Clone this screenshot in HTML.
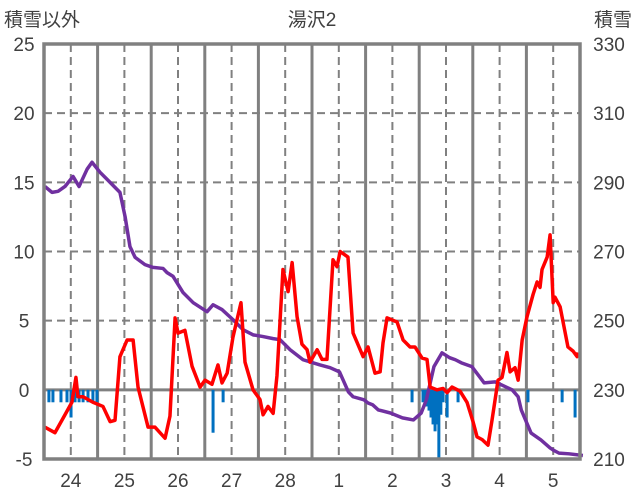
<!DOCTYPE html>
<html><head><meta charset="utf-8"><style>
body{margin:0;background:#fff;}
svg{display:block;font-family:"Liberation Sans","Noto Sans CJK JP",sans-serif;}
</style></head><body>
<svg id="c" width="636" height="501"></svg>
<script>
const dayLabels=["24","25","26","27","28","1","2","3","4","5"];
const leftTicks=[25,20,15,10,5,0,-5];
const rightTicks=[330,310,290,270,250,230,210];
const redHours=[0.4,4.9,9.4,12.5,14.3,15.2,17.5,21.9,26.4,29.6,31.8,34.0,37.2,39.9,42.1,46.6,49.7,54.2,56.4,58.7,60.0,63.1,66.3,69.9,72.1,75.2,77.9,79.7,82.0,84.6,88.2,90.0,93.6,96.7,98.1,100.3,102.6,104.3,107.0,109.3,111.1,113.3,115.5,117.8,119.1,122.3,124.5,126.7,129.4,131.2,132.6,136.1,138.4,142.9,145.1,148.2,150.5,151.8,153.6,158.1,160.8,163.9,166.1,169.3,171.5,172.9,176.0,178.7,180.5,182.7,186.3,189.4,192.1,193.9,196.2,198.8,200.6,203.3,205.1,207.3,208.7,210.9,212.3,214.1,216.3,219.0,220.8,222.1,223.0,225.3,226.6,228.0,228.8,231.1,234.6,236.9,238.7,239.1];
const redValues=[-2.7,-3.1,-1.8,-0.9,0.9,-0.5,-0.5,-0.9,-1.2,-2.3,-2.2,2.4,3.6,3.6,0.2,-2.7,-2.7,-3.5,-1.9,5.2,4.1,4.3,1.7,0.2,0.7,0.4,1.8,0.5,1.2,3.8,6.3,2.0,0,-0.7,-1.8,-1.2,-1.7,1.0,8.7,7.1,9.2,5.3,3.3,2.9,2.0,2.9,2.2,2.2,9.4,8.9,10.0,9.6,4.1,2.4,3.1,1.2,1.3,3.4,5.2,4.9,3.6,3.1,3.1,2.3,2.2,0.2,0,0.1,-0.2,0.2,-0.1,-0.9,-2.3,-3.4,-3.6,-4.0,-2.2,0.7,0.9,2.7,1.3,1.6,0.7,3.6,5.3,6.9,7.8,7.4,8.7,9.6,11.2,6.3,6.7,6.0,3.1,2.8,2.4,2.7];
const snowHours=[0.4,3.6,6.3,9.4,13.0,15.7,19.3,21.5,25.1,28.2,34.0,36.3,38.5,40.8,45.2,48.8,53.3,55.1,57.8,62.3,66.8,73.0,75.7,79.7,84.6,89.1,93.6,98.1,102.6,105.7,110.2,116.0,123.6,128.1,132.3,136.3,138.4,143.3,145.1,147.1,149.7,155.1,160.5,165.4,168.9,171.2,174.6,178.2,181.6,184.2,186.9,191.6,197.1,202.0,209.6,212.3,213.7,218.1,222.5,226.6,228.2,230.6,235.1,241.3];
const snowValues=[288.8,287.1,287.4,288.8,291.7,288.8,293.8,295.8,292.9,290.9,287.1,280.1,271.4,268.3,266.2,265.4,265.1,263.9,262.8,258.1,255.2,252.6,254.6,253.2,250.3,247.4,245.9,245.4,244.8,244.5,241.6,238.7,237.2,236.4,235.2,229.4,228.0,227.1,226.2,225.7,224.2,223.3,221.9,221.3,223.3,227.1,236.7,240.7,239.3,238.7,237.8,236.7,232.0,232.3,230.0,228.0,224.2,217.5,215.5,213.2,212.5,211.7,211.5,211.0];
const precipHours=[2.2,4.0,7.6,10.3,12.1,13.9,15.7,17.5,19.7,21.9,23.7,75.7,80.2,164.8,169.7,170.6,171.5,172.4,173.3,174.2,175.1,176.0,176.8,177.7,178.7,180.5,185.4,216.7,232.0,237.8];
const precipValues=[-0.9,-0.9,-0.9,-0.9,-2.0,-0.9,-0.9,-0.9,-0.9,-0.9,-0.9,-3.1,-0.9,-0.9,-0.9,-1.2,-1.2,-1.5,-2.0,-2.5,-3.0,-2.5,-5.0,-1.8,-0.9,-2.0,-0.9,-0.9,-0.9,-2.0];

const L=44,R=580,T=44,B=459;
const X=h=>L+h*(R-L)/240;
const YL=v=>T+(25-v)*(B-T)/30;
const YR=v=>T+(330-v)*(B-T)/120;
const svg=document.getElementById('c');
const NS='http://www.w3.org/2000/svg';
function mk(tag,attrs,parent){const e=document.createElementNS(NS,tag);for(const k in attrs)e.setAttribute(k,attrs[k]);(parent||svg).appendChild(e);return e;}

// horizontal grid
leftTicks.forEach(v=>{if(v===25||v===-5)return;
 const g=mk('line',{x1:L,x2:R,y1:YL(v),y2:YL(v),stroke:v===0?'#808080':'#808080','stroke-width':v===0?3:2,'stroke-dasharray':v===0?'':'8,5'});
 
 
});
// vertical grid
for(let d=0;d<10;d++){
 const dl=mk('line',{x1:X(d*24+12),x2:X(d*24+12),y1:T,y2:B,stroke:'#808080','stroke-width':2,'stroke-dasharray':'8,5'});
 
 
 if(d>0){const sl=mk('line',{x1:X(d*24),x2:X(d*24),y1:T,y2:B,stroke:'#808080','stroke-width':3});
 
 }
}
// bars
precipHours.forEach((h,i)=>{const v=precipValues[i];
 const r=mk('rect',{x:X(h)-1.5,y:YL(0),width:3,height:YL(v)-YL(0),fill:'#0070c0'});
 
 
});
// lines
const snowPath=mk('polyline',{points:snowHours.map((h,i)=>X(h)+','+YR(snowValues[i])).join(' '),fill:'none',stroke:'#7030a0','stroke-width':3.5,'stroke-linejoin':'round'});


const redPath=mk('polyline',{points:redHours.map((h,i)=>X(h)+','+YL(redValues[i])).join(' '),fill:'none',stroke:'#ff0000','stroke-width':3.5,'stroke-linejoin':'round'});


// frame
const fr=mk('rect',{x:L,y:T,width:R-L,height:B-T,fill:'none',stroke:'#808080','stroke-width':3.5});


// ticks
leftTicks.forEach(v=>{const t=mk('text',{x:24,y:YL(v)+7,'text-anchor':'middle','font-size':19,fill:'#404040'});t.textContent=v;
 
 });
rightTicks.forEach(v=>{const t=mk('text',{x:609,y:YR(v)+7,'text-anchor':'middle','font-size':19,fill:'#404040'});t.textContent=v;
 
 });
dayLabels.forEach((s,d)=>{const t=mk('text',{x:X(d*24+12),y:487,'text-anchor':'middle','font-size':19,fill:'#404040'});t.textContent=s;
 
 });
const tt=mk('text',{x:312,y:26,'text-anchor':'middle','font-size':19,fill:'#404040'});tt.textContent='湯沢2';


const lt=mk('text',{x:4,y:26,'font-size':19,fill:'#404040'});lt.textContent='積雪以外';


const rt=mk('text',{x:632,y:26,'text-anchor':'end','font-size':19,fill:'#404040'});rt.textContent='積雪';


</script>
</body></html>
